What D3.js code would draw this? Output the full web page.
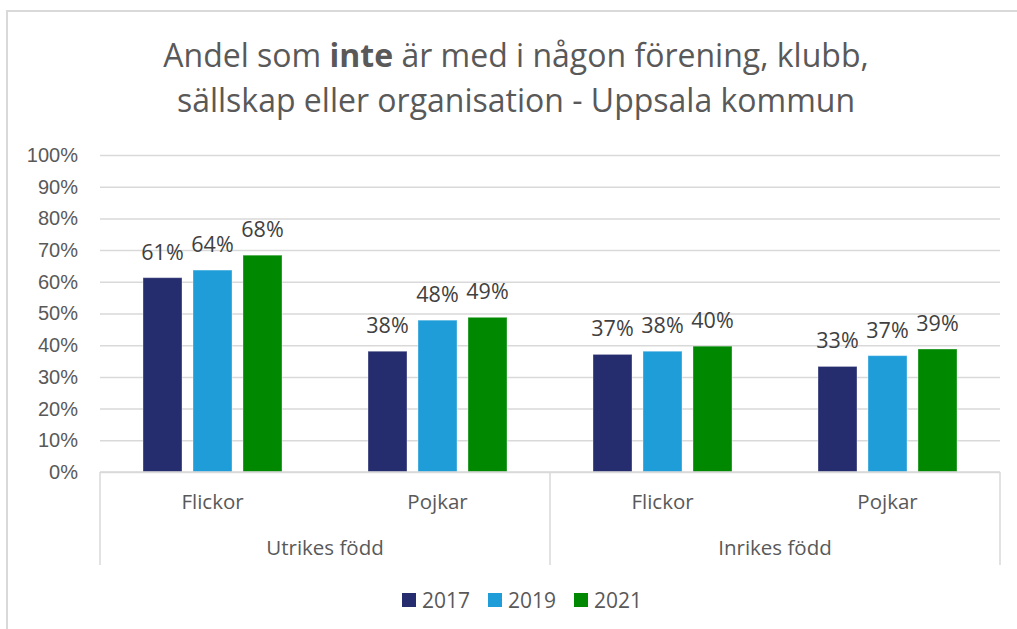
<!DOCTYPE html>
<html>
<head>
<meta charset="utf-8">
<script src="https://cdn.jsdelivr.net/npm/d3@7"></script>
<style>
  body { margin: 0; background: #fff; }
  svg { display: block; font-family: "Open Sans", sans-serif; }
</style>
</head>
<body>
<svg id="chart" width="1017" height="629"></svg>
<script>
// data
var groups = ["Utrikes född", "Inrikes född"];
var categories = ["Flickor", "Pojkar", "Flickor", "Pojkar"];
var categoryGroup = [0, 0, 1, 1];
var years = ["2017", "2019", "2021"];
var values2017 = [0.613, 0.381, 0.371, 0.333];
var values2019 = [0.637, 0.479, 0.381, 0.367];
var values2021 = [0.684, 0.488, 0.397, 0.388];
var yTicks = [0, 0.1, 0.2, 0.3, 0.4, 0.5, 0.6, 0.7, 0.8, 0.9, 1];

var color = {
  "2017": "#262d6e",
  "2019": "#1f9dd9",
  "2021": "#008800"
};

var svg = d3.select("#chart"),
    margin = {top: 155, right: 17, bottom: 157, left: 100},
    width = 1017 - margin.left - margin.right,
    height = 629 - margin.top - margin.bottom;

var series = years.map(function(y, i) {
  return {year: y, values: [values2017, values2019, values2021][i]};
});

// chart frame
svg.append("path")
    .attr("d", "M7,629 V11 H1017")
    .attr("fill", "none")
    .attr("stroke", "#d9d9d9")
    .attr("stroke-width", 2);

// title
var title = svg.append("text")
    .attr("x", 516)
    .attr("text-anchor", "middle")
    .attr("fill", "#595959")
    .style("font-size", "32px");
var t1 = title.append("tspan").attr("x", 516).attr("y", 67);
t1.append("tspan").text("Andel som ");
t1.append("tspan").style("font-weight", "bold").text("inte");
t1.append("tspan").text(" är med i någon förening, klubb,");
title.append("tspan").attr("x", 516).attr("y", 112)
    .text("sällskap eller organisation - Uppsala kommun");

var g = svg.append("g").attr("transform", "translate(" + margin.left + "," + margin.top + ")");

var x0 = d3.scaleBand().domain(d3.range(categories.length)).range([0, width]);
var x1 = d3.scaleBand().domain(years).range([0, x0.bandwidth()]).paddingInner(0.22).paddingOuter(0.86);
var y = d3.scaleLinear().domain([0, 1]).range([height, 0]);

// gridlines + y labels
var yAxis = d3.axisLeft(y).tickValues(yTicks).tickFormat(d3.format(".0%")).tickSize(-width).tickPadding(22);
g.append("g")
    .attr("class", "axis axis--y")
    .call(yAxis)
    .call(function(a) {
      a.select(".domain").remove();
      a.selectAll(".tick line").attr("stroke", "#d9d9d9").attr("stroke-width", 1.5);
      a.selectAll(".tick text").attr("fill", "#595959").style("font-size", "20px").attr("font-family", null);
    });

// bars
var bars = g.selectAll(".series")
  .data(series)
  .enter().append("g")
    .attr("class", "series");

bars.selectAll("rect")
  .data(function(s) { return s.values.map(function(v, i) { return {year: s.year, i: i, v: v}; }); })
  .enter().append("rect")
    .attr("x", function(d) { return x0(d.i) + x1(d.year); })
    .attr("y", function(d) { return y(d.v); })
    .attr("width", x1.bandwidth())
    .attr("height", function(d) { return height - y(d.v); })
    .attr("fill", function(d) { return color[d.year]; })
    .attr("stroke", "#ffffff")
    .attr("stroke-opacity", 0.35)
    .attr("stroke-width", 1);

bars.selectAll(".lbl")
  .data(function(s) { return s.values.map(function(v, i) { return {year: s.year, i: i, v: v}; }); })
  .enter().append("text")
    .attr("class", "lbl")
    .attr("x", function(d) { return x0(d.i) + x1(d.year) + x1.bandwidth() / 2; })
    .attr("y", function(d) { return y(d.v) - 18; })
    .attr("text-anchor", "middle")
    .attr("fill", "#404040")
    .style("font-size", "21.5px")
    .text(function(d) { return d3.format(".0%")(d.v); });

// category axis
g.append("line")
    .attr("x1", 0).attr("x2", width)
    .attr("y1", height).attr("y2", height)
    .attr("stroke", "#d9d9d9").attr("stroke-width", 1.5);

var sepX = [0, x0(2), width];
g.selectAll(".sep")
  .data(sepX)
  .enter().append("line")
    .attr("class", "sep")
    .attr("x1", function(d) { return d; }).attr("x2", function(d) { return d; })
    .attr("y1", height).attr("y2", height + 93)
    .attr("stroke", "#d9d9d9").attr("stroke-width", 1.5);

g.selectAll(".cat")
  .data(categories)
  .enter().append("text")
    .attr("class", "cat")
    .attr("x", function(d, i) { return x0(i) + x0.bandwidth() / 2; })
    .attr("y", height + 37)
    .attr("text-anchor", "middle")
    .attr("fill", "#595959")
    .style("font-size", "20.5px")
    .text(function(d) { return d; });

g.selectAll(".grp")
  .data(groups)
  .enter().append("text")
    .attr("class", "grp")
    .attr("x", function(d, gi) {
      var idx = d3.range(categories.length).filter(function(i) { return categoryGroup[i] === gi; });
      return (x0(idx[0]) + x0(idx[idx.length - 1]) + x0.bandwidth()) / 2;
    })
    .attr("y", height + 83)
    .attr("text-anchor", "middle")
    .attr("fill", "#595959")
    .style("font-size", "20.5px")
    .text(function(d) { return d; });

// legend
var legendX = [402, 488, 574];
var legend = svg.selectAll(".legend")
  .data(years)
  .enter().append("g")
    .attr("class", "legend")
    .attr("transform", function(d, i) { return "translate(" + legendX[i] + ",593)"; });
legend.append("rect")
    .attr("width", 14).attr("height", 14)
    .attr("fill", function(d) { return color[d]; });
legend.append("text")
    .attr("x", 20).attr("y", 15)
    .attr("fill", "#595959")
    .style("font-size", "21px")
    .text(function(d) { return d; });
</script>
</body>
</html>
